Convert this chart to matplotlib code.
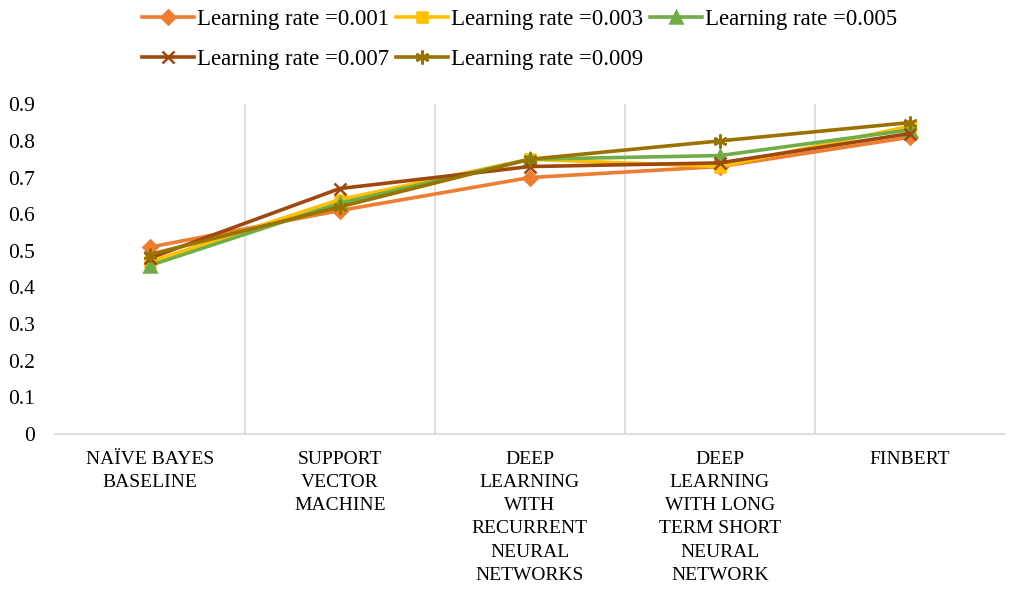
import matplotlib
matplotlib.use("Agg")
import matplotlib.pyplot as plt

categories = [
    "NAÏVE BAYES\nBASELINE",
    "SUPPORT\nVECTOR\nMACHINE",
    "DEEP\nLEARNING\nWITH\nRECURRENT\nNEURAL\nNETWORKS",
    "DEEP\nLEARNING\nWITH LONG\nTERM SHORT\nNEURAL\nNETWORK",
    "FINBERT",
]
labels = ["Learning rate =0.001", "Learning rate =0.003", "Learning rate =0.005",
          "Learning rate =0.007", "Learning rate =0.009"]
lr_001 = [0.51, 0.61, 0.70, 0.73, 0.81]
lr_003 = [0.47, 0.64, 0.75, 0.73, 0.84]
lr_005 = [0.46, 0.63, 0.75, 0.76, 0.83]
lr_007 = [0.48, 0.67, 0.73, 0.74, 0.82]
lr_009 = [0.49, 0.62, 0.75, 0.80, 0.85]

series = [lr_001, lr_003, lr_005, lr_007, lr_009]
colors = ["#ED7D31", "#FFC000", "#70AD47", "#9E480E", "#997300"]
markers = ["D", "s", "^", "x", (6, 2, 0)]
msizes = [7, 7, 8, 8, 10]

plt.rcParams["font.family"] = ["Liberation Serif", "DejaVu Serif"]

fig = plt.figure(figsize=(10.12, 5.89), dpi=100)
ax = fig.add_axes([0.054, 0.263, 0.939, 0.56])

x = list(range(len(categories)))
handles = []
for vals, c, m, ms, lab in zip(series, colors, markers, msizes, labels):
    h, = ax.plot(x, vals, color=c, lw=2.6, marker=m, markersize=ms,
                 markeredgewidth=1.8, label=lab)
    handles.append(h)

ax.set_xlim(-0.5, len(categories) - 0.5)
ax.set_ylim(0, 0.9)
ax.set_yticks([i / 10 for i in range(10)])
ax.set_yticklabels(["0"] + [f"{i / 10:.1f}" for i in range(1, 10)], fontsize=15.5)
ax.set_xticks(x)
ax.set_xticklabels(categories, fontsize=14, linespacing=1.48)
ax.tick_params(axis="y", length=0, pad=14)
ax.tick_params(axis="x", length=0, pad=12)

# light separators between categories
for b in range(1, len(categories)):
    ax.axvline(b - 0.5, color="#D9D9D9", lw=1.2, zorder=0)

for s in ["top", "right", "left"]:
    ax.spines[s].set_visible(False)
ax.spines["bottom"].set_color("#D9D9D9")
ax.spines["bottom"].set_linewidth(1.2)

# reorder so the legend fills row by row
order = [0, 3, 1, 4, 2]
fig.legend([handles[i] for i in order], [labels[i] for i in order],
           loc="upper center", bbox_to_anchor=(0.513, 1.02), ncol=3,
           frameon=False, fontsize=16.5, handlelength=2.3, handletextpad=0.1,
           columnspacing=0.3, labelspacing=0.85)

fig.savefig("out.png", dpi=100)
